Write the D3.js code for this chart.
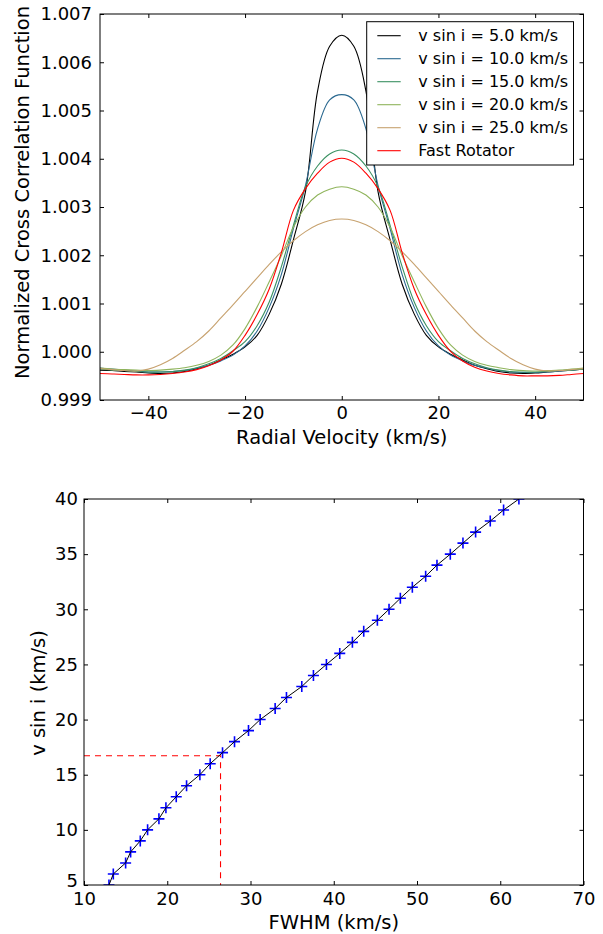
<!DOCTYPE html>
<html><head><meta charset="utf-8">
<script src="https://cdn.jsdelivr.net/npm/d3@7"></script>
<style>
body{margin:0;background:#fff}
svg{display:block}
text{font-family:"DejaVu Sans","Bitstream Vera Sans",sans-serif;fill:#000}
</style>
</head><body><svg id="c" width="603" height="934"></svg>
<script>
// ---------- Top panel data ----------
const velocities = [-50,-47.5,-45,-42.5,-40,-37.5,-35,-32.5,-30,-27.5,-25,-22.5,-20,-17.5,-15,-12.5,-10,-7.5,-5,-2.5,0,2.5,5,7.5,10,12.5,15,17.5,20,22.5,25,27.5,30,32.5,35,37.5,40,42.5,45,47.5,50];
const ccf5 = [0.99962,0.99961,0.99959,0.99958,0.99956,0.99955,0.99956,0.99959,0.99965,0.99972,0.99983,0.99995,1.00010,1.00034,1.00078,1.00140,1.00232,1.00332,1.00540,1.00633,1.00656,1.00633,1.00540,1.00332,1.00232,1.00140,1.00078,1.00034,1.00010,0.99995,0.99983,0.99972,0.99965,0.99959,0.99956,0.99955,0.99956,0.99958,0.99960,0.99962,0.99964];
const ccf10 = [0.99966,0.99964,0.99962,0.99960,0.99958,0.99958,0.99959,0.99961,0.99966,0.99972,0.99981,0.99993,1.00012,1.00043,1.00092,1.00160,1.00255,1.00345,1.00462,1.00522,1.00533,1.00522,1.00462,1.00345,1.00255,1.00160,1.00092,1.00043,1.00012,0.99993,0.99981,0.99972,0.99966,0.99961,0.99958,0.99957,0.99957,0.99958,0.99960,0.99962,0.99965];
const ccf15 = [0.99964,0.99962,0.99961,0.99959,0.99958,0.99958,0.99959,0.99962,0.99967,0.99975,0.99986,1.00002,1.00021,1.00054,1.00103,1.00176,1.00262,1.00342,1.00385,1.00410,1.00418,1.00410,1.00385,1.00342,1.00262,1.00176,1.00103,1.00054,1.00021,1.00002,0.99986,0.99975,0.99967,0.99962,0.99959,0.99958,0.99958,0.99959,0.99961,0.99962,0.99964];
const ccf20 = [0.99966,0.99964,0.99963,0.99962,0.99961,0.99962,0.99964,0.99967,0.99972,0.99980,0.99993,1.00014,1.00048,1.00093,1.00145,1.00199,1.00258,1.00300,1.00325,1.00337,1.00342,1.00337,1.00325,1.00300,1.00258,1.00199,1.00145,1.00093,1.00048,1.00014,0.99993,0.99980,0.99972,0.99967,0.99963,0.99961,0.99960,0.99961,0.99962,0.99964,0.99966];
const ccf25 = [0.99965,0.99963,0.99961,0.99960,0.99964,0.99973,0.99986,1.00003,1.00021,1.00043,1.00070,1.00097,1.00125,1.00153,1.00181,1.00207,1.00230,1.00249,1.00263,1.00272,1.00275,1.00272,1.00263,1.00249,1.00230,1.00207,1.00181,1.00153,1.00125,1.00097,1.00070,1.00043,1.00021,1.00003,0.99986,0.99973,0.99964,0.99960,0.99961,0.99963,0.99965];
const ccfFast = [0.99955,0.99954,0.99953,0.99952,0.99952,0.99953,0.99955,0.99958,0.99963,0.99971,0.99983,1.00001,1.00034,1.00077,1.00130,1.00205,1.00293,1.00338,1.00370,1.00393,1.00401,1.00393,1.00370,1.00338,1.00293,1.00205,1.00130,1.00077,1.00034,1.00001,0.99981,0.99968,0.99960,0.99955,0.99952,0.99950,0.99950,0.99950,0.99951,0.99953,0.99955];
const seriesLabels = ["v sin i = 5.0 km/s","v sin i = 10.0 km/s","v sin i = 15.0 km/s","v sin i = 20.0 km/s","v sin i = 25.0 km/s","Fast Rotator"];
const seriesColors = ["#000000","#2b6990","#3a9162","#8fb45b","#c7a26f","#ff0000"];
const topXTicks = [-40,-20,0,20,40];
const topYTicks = [0.999,1.000,1.001,1.002,1.003,1.004,1.005,1.006,1.007];

// ---------- Bottom panel data ----------
const vsini = [5,6,7,8,9,10,11,12,13,14,15,16,17,18,19,20,21,22,23,24,25,26,27,28,29,30,31,32,33,34,35,36,37,38,39,40];
const fwhm = [13.0,13.52,15.0,15.6,16.76,17.64,19.0,19.84,21.08,22.32,23.92,25.16,26.64,28.08,29.76,31.16,32.96,34.32,36.16,37.56,39.12,40.72,42.24,43.6,45.24,46.64,48.0,49.44,51.04,52.4,54.0,55.52,57.04,58.8,60.4,62.24];
const measuredFWHM = 26.4, measuredVsini = 16.72;
const botXTicks = [10,20,30,40,50,60,70];
const botYTicks = [5,10,15,20,25,30,35,40];

const svg = d3.select("#c");
const TICK = 18, LAB = 19.5, LEG = 16;

function frameAxes(g, x, y, xt, yt, xfmt, yfmt, xpad, ypad, w0, w1, h0, h1){
  g.append("g").attr("transform",`translate(0,${h0})`)
    .call(d3.axisBottom(x).tickValues(xt).tickFormat(xfmt).tickSize(-4).tickPadding(xpad))
    .call(a=>{a.select(".domain").remove();a.selectAll("text").attr("font-size",TICK).attr("font-family",null);});
  g.append("g").attr("transform",`translate(0,${h1})`)
    .call(d3.axisTop(x).tickValues(xt).tickFormat("").tickSize(-4))
    .call(a=>a.select(".domain").remove());
  g.append("g").attr("transform",`translate(${w0},0)`)
    .call(d3.axisLeft(y).tickValues(yt).tickFormat(yfmt).tickSize(-4).tickPadding(ypad))
    .call(a=>{a.select(".domain").remove();a.selectAll("text").attr("font-size",TICK).attr("font-family",null);});
  g.append("g").attr("transform",`translate(${w1},0)`)
    .call(d3.axisRight(y).tickValues(yt).tickFormat("").tickSize(-4))
    .call(a=>a.select(".domain").remove());
  g.selectAll(".tick line").attr("stroke","#000").attr("stroke-width",1);
  g.append("rect").attr("x",w0).attr("y",h1).attr("width",w1-w0).attr("height",h0-h1)
    .attr("fill","none").attr("stroke","#000").attr("stroke-width",1);
}

// ---------- Top panel ----------
const tx = d3.scaleLinear().domain([-50,50]).range([100,583.5]);
const ty = d3.scaleLinear().domain([0.999,1.007]).range([400,14]);
const defs = svg.append("defs");
defs.append("clipPath").attr("id","clipTop").append("rect").attr("x",100).attr("y",14).attr("width",483.5).attr("height",386);
defs.append("clipPath").attr("id","clipBot").append("rect").attr("x",84).attr("y",499).attr("width",499.5).attr("height",386);

const topPanel = svg.append("g");
const seriesData = [ccf5,ccf10,ccf15,ccf20,ccf25,ccfFast];
const line = d3.line().x((d,i)=>tx(velocities[i])).y(d=>ty(d)).curve(d3.curveCatmullRom.alpha(0.5));
const curves = topPanel.append("g").attr("clip-path","url(#clipTop)");
seriesData.forEach((s,k)=>{
  curves.append("path").attr("d",line(s)).attr("fill","none")
    .attr("stroke",seriesColors[k]).attr("stroke-width",1.1);
});
frameAxes(topPanel, tx, ty, topXTicks, topYTicks, d3.format("d"), d3.format(".3f"), 6, 8, 100, 583.5, 400, 14);
topPanel.append("text").attr("x",341.8).attr("y",437).attr("dy","0.35em").attr("text-anchor","middle")
  .attr("font-size",LAB).text("Radial Velocity (km/s)");
topPanel.append("text").attr("transform","translate(22.5,192.5) rotate(-90)").attr("dy","0.35em")
  .attr("text-anchor","middle").attr("font-size",LAB).text("Normalized Cross Correlation Function");

// legend
const leg = topPanel.append("g");
leg.append("rect").attr("x",366.7).attr("y",21.7).attr("width",206.8).attr("height",143.3)
  .attr("fill","#fff").attr("stroke","#000").attr("stroke-width",1);
seriesLabels.forEach((lab,k)=>{
  const yy = 35.7 + k*23;
  leg.append("line").attr("x1",377.3).attr("x2",400.7).attr("y1",yy).attr("y2",yy)
    .attr("stroke",seriesColors[k]).attr("stroke-width",1.1);
  leg.append("text").attr("x",418.3).attr("y",yy).attr("dy","0.36em").attr("font-size",LEG).text(lab);
});

// ---------- Bottom panel ----------
const bx = d3.scaleLinear().domain([10,70]).range([84,583.5]);
const by = d3.scaleLinear().domain([5,40]).range([885,499]);
const botPanel = svg.append("g");
const plot = botPanel.append("g").attr("clip-path","url(#clipBot)");
plot.append("path")
  .attr("d",`M${bx(10)},${by(measuredVsini)}H${bx(measuredFWHM)}V${by(5)}`)
  .attr("fill","none").attr("stroke","#ff0000").attr("stroke-width",1.1).attr("stroke-dasharray","6,5");
const m = 5.5;
plot.append("g").selectAll("path").data(vsini).join("path")
  .attr("d",(d,i)=>`M${bx(fwhm[i])-m},${by(d)}h${2*m}M${bx(fwhm[i])},${by(d)-m}v${2*m}`)
  .attr("stroke","#0000ff").attr("stroke-width",1.6).attr("fill","none");
plot.append("path").attr("d",d3.line().x((d,i)=>bx(fwhm[i])).y(d=>by(d))(vsini))
  .attr("fill","none").attr("stroke","#000").attr("stroke-width",1);
frameAxes(botPanel, bx, by, botXTicks, botYTicks, d3.format("d"), d3.format("d"), 7, 6, 84, 583.5, 885, 499);
// nudge the lowest y label slightly up so it does not sit on the "10" below it
botPanel.selectAll("text").filter(function(){return this.textContent==="5";}).attr("dy","0.1em");
botPanel.append("text").attr("x",333.8).attr("y",922).attr("dy","0.35em").attr("text-anchor","middle")
  .attr("font-size",LAB).text("FWHM (km/s)");
botPanel.append("text").attr("transform","translate(38.3,693) rotate(-90)").attr("dy","0.35em")
  .attr("text-anchor","middle").attr("font-size",LAB).text("v sin i (km/s)");
</script>
</body></html>
